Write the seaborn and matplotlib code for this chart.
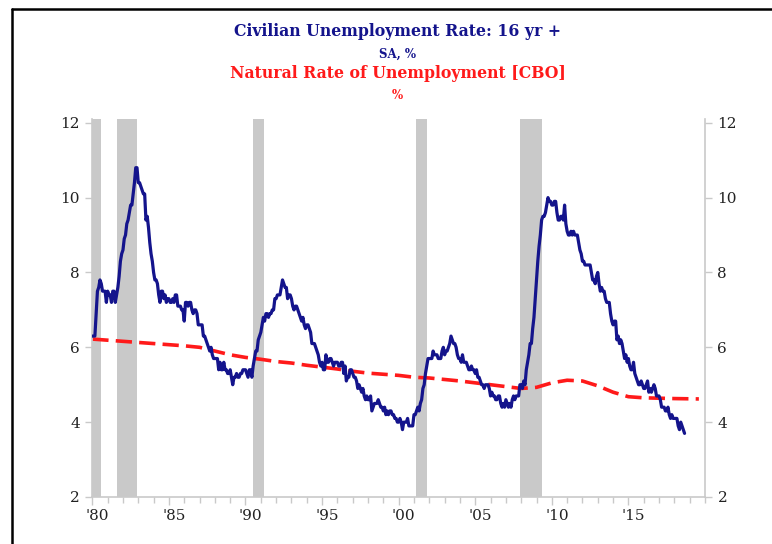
import numpy as np
import pandas as pd
import matplotlib
matplotlib.use("Agg")
import matplotlib.pyplot as plt
import matplotlib.transforms as mtransforms
import seaborn as sns
from matplotlib.lines import Line2D

# ==========================================
# Data
# ==========================================

# civilian unemployment rate, monthly from Jan 1980
unrate = [
    6.3, 6.3, 6.3, 6.9, 7.5, 7.6, 7.8, 7.7, 7.5, 7.5, 7.5, 7.2,   # 1980
    7.5, 7.4, 7.4, 7.2, 7.5, 7.5, 7.2, 7.4, 7.6, 7.9, 8.3, 8.5,   # 1981
    8.6, 8.9, 9.0, 9.3, 9.4, 9.6, 9.8, 9.8, 10.1, 10.4, 10.8, 10.8,  # 1982
    10.4, 10.4, 10.3, 10.2, 10.1, 10.1, 9.4, 9.5, 9.2, 8.8, 8.5, 8.3,  # 1983
    8.0, 7.8, 7.8, 7.7, 7.4, 7.2, 7.5, 7.5, 7.3, 7.4, 7.2, 7.3,   # 1984
    7.3, 7.2, 7.2, 7.3, 7.2, 7.4, 7.4, 7.1, 7.1, 7.1, 7.0, 7.0,   # 1985
    6.7, 7.2, 7.2, 7.1, 7.2, 7.2, 7.0, 6.9, 7.0, 7.0, 6.9, 6.6,   # 1986
    6.6, 6.6, 6.6, 6.3, 6.3, 6.2, 6.1, 6.0, 5.9, 6.0, 5.8, 5.7,   # 1987
    5.7, 5.7, 5.7, 5.4, 5.6, 5.4, 5.4, 5.6, 5.4, 5.4, 5.3, 5.3,   # 1988
    5.4, 5.2, 5.0, 5.2, 5.2, 5.3, 5.2, 5.2, 5.3, 5.3, 5.4, 5.4,   # 1989
    5.4, 5.3, 5.2, 5.4, 5.4, 5.2, 5.5, 5.7, 5.9, 5.9, 6.2, 6.3,   # 1990
    6.4, 6.6, 6.8, 6.7, 6.9, 6.9, 6.8, 6.9, 6.9, 7.0, 7.0, 7.3,   # 1991
    7.3, 7.4, 7.4, 7.4, 7.6, 7.8, 7.7, 7.6, 7.6, 7.3, 7.4, 7.4,   # 1992
    7.3, 7.1, 7.0, 7.1, 7.1, 7.0, 6.9, 6.8, 6.7, 6.8, 6.6, 6.5,   # 1993
    6.6, 6.6, 6.5, 6.4, 6.1, 6.1, 6.1, 6.0, 5.9, 5.8, 5.6, 5.5,   # 1994
    5.6, 5.4, 5.4, 5.8, 5.6, 5.6, 5.7, 5.7, 5.6, 5.5, 5.6, 5.6,   # 1995
    5.6, 5.5, 5.5, 5.6, 5.6, 5.3, 5.5, 5.1, 5.2, 5.2, 5.4, 5.4,   # 1996
    5.3, 5.2, 5.2, 5.1, 4.9, 5.0, 4.9, 4.8, 4.9, 4.7, 4.6, 4.7,   # 1997
    4.6, 4.6, 4.7, 4.3, 4.4, 4.5, 4.5, 4.5, 4.6, 4.5, 4.4, 4.4,   # 1998
    4.3, 4.4, 4.2, 4.3, 4.2, 4.3, 4.3, 4.2, 4.2, 4.1, 4.1, 4.0,   # 1999
    4.0, 4.1, 4.0, 3.8, 4.0, 4.0, 4.0, 4.1, 3.9, 3.9, 3.9, 3.9,   # 2000
    4.2, 4.2, 4.3, 4.4, 4.3, 4.5, 4.6, 4.9, 5.0, 5.3, 5.5, 5.7,   # 2001
    5.7, 5.7, 5.7, 5.9, 5.8, 5.8, 5.8, 5.7, 5.7, 5.7, 5.9, 6.0,   # 2002
    5.8, 5.9, 5.9, 6.0, 6.1, 6.3, 6.2, 6.1, 6.1, 6.0, 5.8, 5.7,   # 2003
    5.7, 5.6, 5.8, 5.6, 5.6, 5.6, 5.5, 5.4, 5.4, 5.5, 5.4, 5.4,   # 2004
    5.3, 5.4, 5.2, 5.2, 5.1, 5.0, 5.0, 4.9, 5.0, 5.0, 5.0, 4.9,   # 2005
    4.7, 4.8, 4.7, 4.7, 4.6, 4.6, 4.7, 4.7, 4.5, 4.4, 4.5, 4.4,   # 2006
    4.6, 4.5, 4.4, 4.5, 4.4, 4.6, 4.7, 4.6, 4.7, 4.7, 4.7, 5.0,   # 2007
    5.0, 4.9, 5.1, 5.0, 5.4, 5.6, 5.8, 6.1, 6.1, 6.5, 6.8, 7.3,   # 2008
    7.8, 8.3, 8.7, 9.0, 9.4, 9.5, 9.5, 9.6, 9.8, 10.0, 9.9, 9.9,  # 2009
    9.8, 9.8, 9.9, 9.9, 9.6, 9.4, 9.4, 9.5, 9.5, 9.4, 9.8, 9.3,   # 2010
    9.1, 9.0, 9.0, 9.1, 9.0, 9.1, 9.0, 9.0, 9.0, 8.8, 8.6, 8.5,   # 2011
    8.3, 8.3, 8.2, 8.2, 8.2, 8.2, 8.2, 8.0, 7.8, 7.8, 7.7, 7.9,   # 2012
    8.0, 7.7, 7.5, 7.6, 7.5, 7.5, 7.3, 7.2, 7.2, 7.2, 6.9, 6.7,   # 2013
    6.6, 6.7, 6.7, 6.2, 6.3, 6.1, 6.2, 6.1, 5.9, 5.7, 5.8, 5.6,   # 2014
    5.7, 5.5, 5.4, 5.4, 5.6, 5.3, 5.2, 5.1, 5.0, 5.0, 5.1, 5.0,   # 2015
    4.9, 4.9, 5.0, 5.1, 4.8, 4.9, 4.8, 4.9, 5.0, 4.9, 4.7, 4.7,   # 2016
    4.7, 4.6, 4.4, 4.4, 4.4, 4.3, 4.3, 4.4, 4.2, 4.1, 4.2, 4.1,   # 2017
    4.1, 4.1, 4.1, 3.9, 3.8, 4.0, 3.9, 3.8, 3.7,                  # 2018
]

# CBO natural rate of unemployment
cbo_years = [1980, 1982, 1984, 1986, 1987, 1988, 1989, 1990, 1991, 1992,
             1993, 1994, 1995, 1996, 1997, 1998, 1999, 2000, 2001, 2002,
             2003, 2004, 2005, 2006, 2007, 2008, 2009, 2010, 2011, 2012,
             2013, 2014, 2015, 2016, 2017, 2018, 2019.6]
cbo_rate = [6.22, 6.16, 6.10, 6.04, 6.00, 5.90, 5.80, 5.73, 5.68, 5.62,
            5.58, 5.52, 5.47, 5.42, 5.36, 5.31, 5.28, 5.25, 5.20, 5.18,
            5.14, 5.10, 5.05, 5.00, 4.95, 4.90, 4.93, 5.05, 5.12, 5.10,
            4.97, 4.80, 4.68, 4.65, 4.64, 4.63, 4.62]

# recessions (start, end)
rec_start = [1980.0, 1981.59, 1990.49, 2001.15, 2007.90]
rec_end = [1980.57, 1982.93, 1991.19, 2001.84, 2009.38]

year_ticks = [1980, 1985, 1990, 1995, 2000, 2005, 2010, 2015]
year_labels = ["'80", "'85", "'90", "'95", "'00", "'05", "'10", "'15"]
y_ticks = [2, 4, 6, 8, 10, 12]

# ==========================================
# Plot
# ==========================================

sns.set_theme(style="white")
plt.rcParams['font.family'] = ['DejaVu Serif']

navy = "#14148c"
red = "#ff1a1a"
grey = "#c9c9c9"

df_u = pd.DataFrame({"year": 1980 + np.arange(len(unrate)) / 12.0,
                     "rate": unrate})
df_n = pd.DataFrame({"year": cbo_years, "rate": cbo_rate})

fig = plt.figure(figsize=(7.72, 5.44), dpi=100)
ax = fig.add_axes([0.1196, 0.0864, 0.7936, 0.6948])

for s, e in zip(rec_start, rec_end):
    ax.axvspan(s, e, color=grey, lw=0, zorder=0)

sns.lineplot(data=df_n, x="year", y="rate", ax=ax, color=red, lw=2.6,
             dashes=False, zorder=2)
ax.lines[-1].set_dashes([4.5, 2.0])
sns.lineplot(data=df_u, x="year", y="rate", ax=ax, color=navy, lw=2.3,
             zorder=3)

ax.set_xlim(1980, 2020)
ax.set_ylim(2, 12.1)
ax.set_xlabel("")
ax.set_ylabel("")

ax.set_xticks(year_ticks)
ax.set_xticklabels(year_labels)
ax.set_xticks(np.arange(1980, 2021, 1), minor=True)
ax.set_yticks(y_ticks)
ax.set_yticklabels([str(v) for v in y_ticks])

ax.tick_params(axis="x", which="both", bottom=True, direction="out",
               color=grey, width=1, labelsize=11, labelcolor="#222222",
               pad=3)
ax.tick_params(axis="x", which="major", length=6)
ax.tick_params(axis="x", which="minor", length=4)
ax.tick_params(axis="y", left=True, right=True, labelleft=True,
               labelright=True, direction="out", length=5, color=grey,
               width=1, labelsize=11, labelcolor="#222222", pad=4)

# x labels sit a little right of their ticks
shift = mtransforms.ScaledTranslation(5 / 100, 0, fig.dpi_scale_trans)
for lab in ax.get_xticklabels():
    lab.set_transform(lab.get_transform() + shift)

for side in ["left", "right", "bottom"]:
    ax.spines[side].set_color(grey)
    ax.spines[side].set_linewidth(1.2)
ax.spines["top"].set_visible(False)

# titles
fig.text(0.515, 0.943, "Civilian Unemployment Rate: 16 yr +", ha="center",
         va="center", color=navy, fontsize=11.3, fontweight="bold")
fig.text(0.515, 0.901, "SA, %", ha="center", va="center", color=navy,
         fontsize=8.5, fontweight="bold")
fig.text(0.515, 0.864, "Natural Rate of Unemployment [CBO]", ha="center",
         va="center", color=red, fontsize=11.3, fontweight="bold")
fig.text(0.515, 0.824, "%", ha="center", va="center", color=red,
         fontsize=8.5, fontweight="bold")

# black frame lines (top and left)
fig.add_artist(Line2D([0.0155, 1.0], [0.9835, 0.9835], color="black",
                      lw=1.8, transform=fig.transFigure))
fig.add_artist(Line2D([0.0155, 0.0155], [0.0, 0.9835], color="black",
                      lw=1.8, transform=fig.transFigure))

plt.savefig("out.png", dpi=100)
